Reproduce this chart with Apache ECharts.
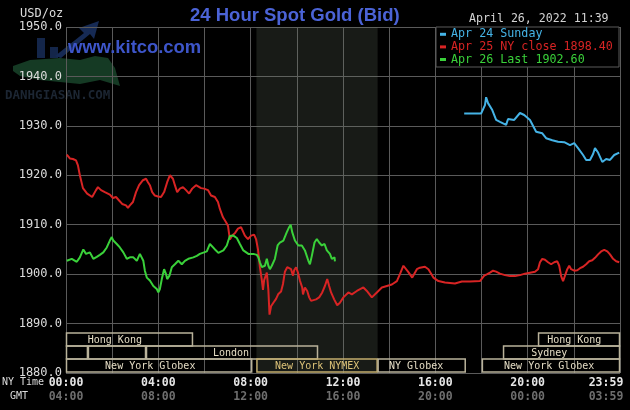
<!DOCTYPE html>
<html><head><meta charset="utf-8">
<script src="https://cdn.jsdelivr.net/npm/echarts@6/dist/echarts.min.js"></script>
<style>html,body{margin:0;padding:0;background:#000;}#c{width:630px;height:410px;}</style>
</head><body><div id="c"></div>
<script>
const MONO = '"DejaVu Sans Mono", "Liberation Mono", monospace';

// ---- data (x = minutes after 00:00 NY time) ----
const apr24Minutes = [1035,1079,1089,1092,1097,1108,1118,1128,1144,1149,1165,1180,1191,1196,1206,1222,1238,1248,1264,1279,1295,1310,1321,1331,1344,1352,1362,1370,1375,1383,1394,1404,1414,1425,1438];
const apr24Prices  = [1932.5,1932.5,1934.2,1935.8,1934.6,1933.2,1931.2,1930.8,1930.2,1931.4,1931.2,1932.6,1932.2,1932.6,1931.2,1928.8,1928.5,1927.5,1927.1,1926.8,1926.7,1926.1,1926.5,1925.5,1924.1,1923.1,1923.1,1924.3,1925.5,1924.6,1922.7,1923.3,1923.1,1924.1,1924.6];

const apr25Minutes = [2,10,18,26,31,36,44,55,68,78,83,91,101,114,122,130,138,146,156,161,166,174,182,190,200,208,213,218,224,231,239,247,255,263,270,278,283,289,296,304,312,320,328,338,343,351,359,369,377,387,395,400,408,416,421,426,432,439,447,455,465,473,481,489,494,499,504,509,512,515,522,526,529,533,539,546,552,559,564,569,575,580,585,590,593,598,603,608,614,616,621,627,632,637,642,650,658,666,673,679,684,689,697,705,712,721,734,743,756,773,782,795,808,821,834,847,860,868,877,881,889,900,912,920,933,942,955,968,985,1011,1029,1050,1076,1087,1095,1102,1110,1118,1128,1141,1154,1167,1180,1193,1206,1219,1227,1232,1238,1245,1253,1261,1269,1277,1282,1287,1292,1297,1303,1308,1313,1321,1329,1336,1344,1352,1360,1368,1375,1383,1391,1399,1407,1414,1422,1430,1438];
const apr25Prices  = [1924.2,1923.4,1923.3,1923.0,1922.0,1920.0,1917.4,1916.3,1915.6,1917.0,1917.6,1917.0,1916.6,1916.1,1915.4,1915.6,1914.9,1914.2,1913.9,1913.4,1913.9,1914.6,1916.6,1918.0,1919.0,1919.3,1918.6,1918.0,1916.6,1915.9,1915.7,1915.6,1916.6,1918.6,1920.0,1919.3,1918.0,1916.6,1917.3,1917.6,1917.0,1916.3,1917.3,1918.0,1918.3,1917.4,1917.3,1917.0,1915.9,1915.6,1914.6,1913.2,1911.5,1910.5,1909.8,1907.0,1907.8,1908.3,1909.2,1909.5,1907.8,1907.1,1907.8,1908.0,1907.1,1905.0,1901.4,1898.8,1896.8,1898.8,1900.3,1896.8,1891.8,1893.5,1894.2,1895.0,1896.0,1896.5,1898.0,1900.5,1901.4,1901.6,1901.0,1899.7,1900.8,1901.4,1900.3,1898.7,1897.3,1895.9,1897.3,1896.6,1895.3,1894.6,1895.0,1894.9,1895.3,1896.3,1897.6,1899.0,1897.6,1896.3,1894.9,1893.7,1894.2,1895.3,1896.3,1895.9,1896.6,1897.3,1896.6,1895.3,1896.3,1897.3,1897.6,1897.9,1898.6,1900.0,1901.7,1902.0,1900.5,1899.3,1901.0,1901.3,1901.5,1901.0,1899.3,1898.6,1898.3,1898.1,1898.5,1898.5,1898.6,1899.7,1900.0,1900.3,1900.7,1900.5,1900.1,1899.8,1899.6,1899.6,1899.8,1900.1,1900.3,1900.5,1901.0,1902.4,1903.1,1902.9,1902.4,1902.0,1902.4,1902.6,1901.7,1899.6,1898.6,1899.0,1901.0,1901.7,1901.0,1900.7,1900.8,1901.2,1901.5,1902.0,1902.6,1902.8,1903.3,1904.0,1904.6,1904.9,1904.6,1904.0,1903.1,1902.6,1902.4];

const apr26Minutes = [2,15,28,36,45,52,62,71,80,88,97,106,114,119,123,132,140,149,158,166,175,184,192,197,201,205,210,218,227,236,240,244,249,255,260,263,269,275,283,292,301,309,318,331,340,348,353,366,374,379,386,396,409,418,422,426,435,444,452,461,474,487,496,500,504,509,513,517,522,526,530,535,543,550,556,565,574,580,584,588,595,604,613,621,630,634,639,646,652,658,665,672,678,682,686,691,695,698,699];
const apr26Prices  = [1902.7,1903.1,1902.5,1903.4,1905.0,1904.1,1904.4,1903.1,1903.5,1903.9,1904.4,1905.4,1906.8,1907.5,1906.8,1906.1,1905.4,1904.4,1903.1,1903.4,1903.4,1902.7,1904.1,1903.7,1902.7,1900.7,1899.3,1898.7,1897.6,1897.0,1896.3,1897.0,1899.0,1901.0,1900.0,1899.0,1899.7,1901.4,1902.0,1902.7,1902.0,1902.7,1903.1,1903.4,1903.7,1904.1,1904.3,1904.6,1906.1,1906.3,1905.1,1904.3,1904.8,1905.8,1906.8,1907.7,1907.8,1907.3,1906.1,1904.8,1904.1,1904.1,1903.9,1903.4,1902.4,1901.4,1901.0,1901.7,1903.1,1901.7,1901.0,1901.7,1903.1,1905.8,1906.4,1906.8,1908.5,1909.5,1910.0,1908.5,1906.8,1905.8,1905.8,1904.8,1902.7,1902.0,1903.7,1906.4,1907.1,1906.4,1905.8,1906.1,1904.8,1904.6,1904.1,1903.1,1902.7,1903.4,1902.6];

const nyTimeLabels = ['00:00','04:00','08:00','12:00','16:00','20:00','23:59'];
const gmtLabels    = ['04:00','08:00','12:00','16:00','20:00','00:00','03:59'];

const seriesNames = ['Apr 24 Sunday','Apr 25 NY close 1898.40','Apr 26 Last 1902.60'];

// trading sessions (minutes)
const sessionNames   = ['Hong Kong','','','London','New York Globex','New York NYMEX','NY Globex','New York Globex','Sydney','Hong Kong'];
const sessionStart   = [0,0,57,208,0,495,810,1081,1136,1227];
const sessionEnd     = [330,57,208,655,484,810,1039,1440,1440,1440];
const sessionRow     = [0,1,1,1,2,2,2,2,1,0];
const sessionLabelAt = [127,0,0,429,219,653,910,1256,1256,1321];
const nymexWindow    = [495,810];

const zip = (xs, ys) => xs.map((x, i) => [x, ys[i]]);

const chart = echarts.init(document.getElementById('c'), null, {renderer: 'canvas'});

const COLORS = ['#45b3e6', '#d82424', '#3ad13a'];

chart.setOption({
  backgroundColor: '#000',
  animation: false,
  grid: {left: 66, right: 10, top: 27, bottom: 37, containLabel: false, outerBoundsMode: 'none'},
  legend: {
    orient: 'vertical', left: 440, top: 28, padding: 0, itemGap: 0,
    itemWidth: 6, itemHeight: 3, icon: 'rect', z: 10, selectedMode: false,
    textStyle: {fontFamily: MONO, fontSize: 11.7, lineHeight: 12.6},
    data: seriesNames.map((n, i) => ({name: n, textStyle: {color: COLORS[i]}}))
  },
  xAxis: {
    type: 'value', min: 0, max: 1440, interval: 120,
    axisLine: {show: false}, axisTick: {show: false},
    splitLine: {show: true, lineStyle: {color: '#5a5a5a', width: 1}},
    axisLabel: {
      margin: 3,
      formatter: function (v) {
        if (v % 240 !== 0) return '';
        const i = v / 240;
        if (v === 1440) return '{a2|' + nyTimeLabels[i] + '}\n{b2|' + gmtLabels[i] + '}';
        return '{a|' + nyTimeLabels[i] + '}\n{b|' + gmtLabels[i] + '}';
      },
      rich: {
        a:  {color: '#e6e6e6', fontFamily: MONO, fontWeight: 'bold', fontSize: 11.5, lineHeight: 14},
        b:  {color: '#6e6e6e', fontFamily: MONO, fontWeight: 'bold', fontSize: 11.5, lineHeight: 14},
        a2: {color: '#e6e6e6', fontFamily: MONO, fontWeight: 'bold', fontSize: 11.5, lineHeight: 14, padding: [0, 28, 0, 0]},
        b2: {color: '#6e6e6e', fontFamily: MONO, fontWeight: 'bold', fontSize: 11.5, lineHeight: 14, padding: [0, 28, 0, 0]}
      }
    }
  },
  yAxis: {
    type: 'value', min: 1880, max: 1950, interval: 10,
    axisLine: {show: false}, axisTick: {show: false},
    splitLine: {show: true, lineStyle: {color: '#5a5a5a', width: 1}},
    axisLabel: {
      margin: 4, color: '#dcdcdc', fontFamily: MONO, fontSize: 12,
      formatter: v => v.toFixed(1)
    }
  },
  graphic: [
    // faint watermark logo (behind grid and labels)
    {type: 'polygon', z: -10, shape: {points: [[13,66],[30,60],[60,58],[80,60],[95,56],[108,58],[115,68],[120,86],[100,80],[80,84],[60,82],[40,80],[20,76],[13,71]]}, style: {fill: '#153a24'}},
    {type: 'rect', z: -9, shape: {x: 37, y: 38, width: 8, height: 20}, style: {fill: '#14264a'}},
    {type: 'rect', z: -9, shape: {x: 50, y: 47, width: 8, height: 11}, style: {fill: '#14264a'}},
    {type: 'polygon', z: -9, shape: {points: [[55,56],[84,33],[79,28],[99,21],[94,39],[90,34],[61,58]]}, style: {fill: '#162a54'}},
    {type: 'text', z: -9, left: 5, top: 89, style: {text: 'DANHGIASAN.COM', fill: '#1c2633', fontFamily: MONO, fontWeight: 'bold', fontSize: 12.5}},
    {type: 'text', z: 2, left: 68, top: 39, style: {text: 'www.kitco.com', fill: '#3d55c9', fontFamily: '"Liberation Sans", Arial, sans-serif', fontWeight: 'bold', fontSize: 18.4}},
    // title + date + units
    {type: 'text', z: 5, left: 190, top: 6, style: {text: '24 Hour Spot Gold (Bid)', fill: '#4b63d6', fontFamily: '"Liberation Sans", Arial, sans-serif', fontWeight: 'bold', fontSize: 18.5}},
    {type: 'text', z: 5, left: 469, top: 13, style: {text: 'April 26, 2022 11:39', fill: '#d2d2d2', fontFamily: MONO, fontSize: 11.6}},
    {type: 'text', z: 5, left: 20, top: 8, style: {text: 'USD/oz', fill: '#dcdcdc', fontFamily: MONO, fontSize: 12}},
    {type: 'text', z: 5, left: 2, top: 377, style: {text: 'NY Time', fill: '#dcdcdc', fontFamily: MONO, fontSize: 10}},
    {type: 'text', z: 5, left: 10, top: 391, style: {text: 'GMT', fill: '#dcdcdc', fontFamily: MONO, fontSize: 10}},
    // legend box
    {type: 'rect', z: 8, shape: {x: 436, y: 27, width: 183, height: 40}, style: {fill: '#000', stroke: '#5a5a5a', lineWidth: 1}}
  ],
  series: [
    {
      name: seriesNames[0], type: 'line', data: zip(apr24Minutes, apr24Prices),
      showSymbol: false, symbol: 'none', lineStyle: {color: COLORS[0], width: 2}, itemStyle: {color: COLORS[0]}, z: 3
    },
    {
      name: seriesNames[1], type: 'line', data: zip(apr25Minutes, apr25Prices),
      showSymbol: false, symbol: 'none', lineStyle: {color: COLORS[1], width: 2}, itemStyle: {color: COLORS[1]}, z: 3,
      markArea: {
        silent: true,
        itemStyle: {color: 'rgba(110,125,105,0.22)'},
        data: [[{xAxis: nymexWindow[0]}, {xAxis: nymexWindow[1]}]]
      }
    },
    {
      name: seriesNames[2], type: 'line', data: zip(apr26Minutes, apr26Prices),
      showSymbol: false, symbol: 'none', lineStyle: {color: COLORS[2], width: 2}, itemStyle: {color: COLORS[2]}, z: 4
    },
    {
      name: 'sessions', type: 'custom', z: 5, silent: true,
      data: sessionStart.map((s, i) => [s, sessionEnd[i], sessionRow[i], sessionLabelAt[i]]),
      encode: {x: [0, 1, 3]},
      renderItem: function (params, api) {
        const i = params.dataIndex;
        const bottom = api.coord([0, 1880])[1];
        const x0 = api.coord([api.value(0), 1880])[0];
        const x1 = api.coord([api.value(1), 1880])[0];
        const xl = api.coord([api.value(3), 1880])[0];
        const rowH = 13;
        const top = bottom - 40 + api.value(2) * rowH;
        const hi = sessionNames[i] === 'New York NYMEX';
        const children = [{
          type: 'rect',
          shape: {x: x0 + 0.5, y: top, width: x1 - x0 - 1, height: rowH},
          style: {fill: 'none', stroke: hi ? '#c2ad6e' : '#b9b29a', lineWidth: 1.5}
        }];
        if (sessionNames[i]) {
          children.push({
            type: 'text', x: xl, y: top + rowH / 2 + 0.5,
            style: {text: sessionNames[i], fill: hi ? '#dcc278' : '#e4dcc4', fontFamily: MONO, fontSize: 10, align: 'center', verticalAlign: 'middle'}
          });
        }
        return {type: 'group', children: children};
      }
    }
  ]
});
</script>
</body></html>
